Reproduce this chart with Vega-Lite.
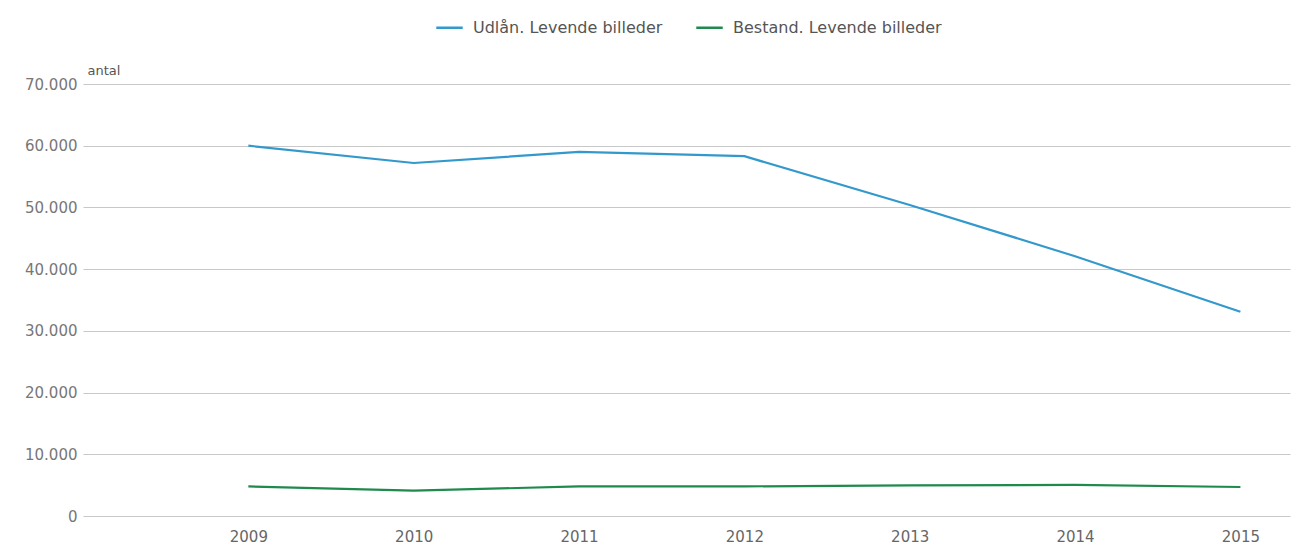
{
  "$schema": "https://vega.github.io/schema/vega-lite/v6.json",
  "width": 1207,
  "height": 432,
  "autosize": {"type": "none"},
  "padding": {"left": 83, "top": 84, "right": 17, "bottom": 33},
  "background": "white",
  "config": {
    "font": "DejaVu Sans",
    "view": {"stroke": null},
    "locale": {"number": {"decimal": ",", "thousands": ".", "grouping": [3], "currency": ["", " kr."]}}
  },
  "data": {
    "values": [
      {"year": 2009, "series": "Udlån. Levende billeder", "value": 60000},
      {"year": 2010, "series": "Udlån. Levende billeder", "value": 57200},
      {"year": 2011, "series": "Udlån. Levende billeder", "value": 59000},
      {"year": 2012, "series": "Udlån. Levende billeder", "value": 58300},
      {"year": 2013, "series": "Udlån. Levende billeder", "value": 50400},
      {"year": 2014, "series": "Udlån. Levende billeder", "value": 42100},
      {"year": 2015, "series": "Udlån. Levende billeder", "value": 33100},
      {"year": 2009, "series": "Bestand. Levende billeder", "value": 4800},
      {"year": 2010, "series": "Bestand. Levende billeder", "value": 4100},
      {"year": 2011, "series": "Bestand. Levende billeder", "value": 4800},
      {"year": 2012, "series": "Bestand. Levende billeder", "value": 4800},
      {"year": 2013, "series": "Bestand. Levende billeder", "value": 4950},
      {"year": 2014, "series": "Bestand. Levende billeder", "value": 5050},
      {"year": 2015, "series": "Bestand. Levende billeder", "value": 4700}
    ]
  },
  "mark": {"type": "line", "strokeWidth": 2.2, "clip": true},
  "encoding": {
    "x": {
      "field": "year", "type": "quantitative",
      "scale": {"domain": [2008, 2015.3], "nice": false, "zero": false},
      "axis": {
        "values": [2009, 2010, 2011, 2012, 2013, 2014, 2015],
        "format": "d", "title": null, "grid": false, "domain": false, "ticks": false,
        "labelPadding": 13, "labelFontSize": 15, "labelColor": "#666", "labelFlush": false
      }
    },
    "y": {
      "field": "value", "type": "quantitative",
      "scale": {"domain": [0, 70000], "nice": false},
      "axis": {
        "values": [0, 10000, 20000, 30000, 40000, 50000, 60000, 70000],
        "format": ",d", "title": "antal", "titleAngle": 0, "titleAlign": "left",
        "titleBaseline": "bottom", "titleX": 4, "titleY": -7, "titleFontWeight": "normal",
        "titleFontSize": 13, "titleColor": "#555",
        "domain": false, "ticks": false, "labelPadding": 6, "labelFontSize": 15, "labelColor": "#777",
        "gridColor": "#c8c8c8", "gridWidth": 1.2
      }
    },
    "color": {
      "field": "series", "type": "nominal",
      "sort": ["Udlån. Levende billeder", "Bestand. Levende billeder"],
      "scale": {"domain": ["Udlån. Levende billeder", "Bestand. Levende billeder"], "range": ["#3399cc", "#1f8a4c"]},
      "legend": {
        "title": null, "orient": "none", "direction": "horizontal",
        "legendX": 352, "legendY": -71,
        "symbolType": "stroke", "symbolStrokeWidth": 2.5, "symbolSize": 700,
        "labelFontSize": 16, "labelColor": "#555", "labelLimit": 400,
        "columnPadding": 28, "labelOffset": 9
      }
    }
  }
}
